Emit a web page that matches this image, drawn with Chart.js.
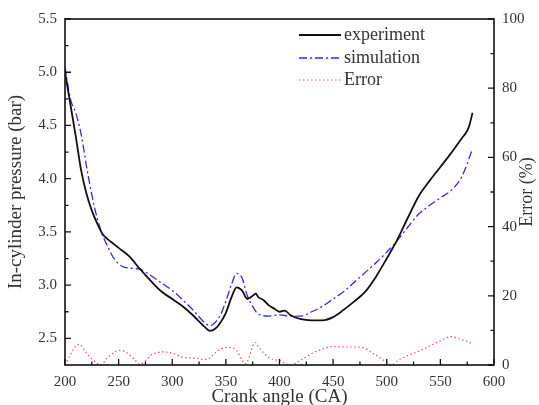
<!DOCTYPE html>
<html>
<head>
<meta charset="utf-8">
<script src="https://cdn.jsdelivr.net/npm/chart.js@4/dist/chart.umd.min.js"></script>
<style>
  html, body { margin: 0; padding: 0; background: #fff; }
  #wrap { width: 539px; height: 405px; }
</style>
</head>
<body>
<div id="wrap"><canvas id="pressureCanvas" width="539" height="405"></canvas></div>
<script>
// du lieu doc tu hinh
const expAngle = [200, 205, 210, 215, 220, 225, 230, 235, 240, 245, 250, 260, 270, 280, 290, 300, 310, 320, 330, 335, 340, 345, 350, 355, 360, 365, 370, 375, 378, 380, 385, 390, 395, 400, 405, 410, 420, 430, 440, 450, 460, 470, 480, 490, 500, 510, 520, 530, 540, 550, 560, 570, 575, 577, 580];
const expPressure = [5.00, 4.70, 4.40, 4.08, 3.86, 3.70, 3.58, 3.48, 3.43, 3.39, 3.35, 3.27, 3.15, 3.04, 2.94, 2.87, 2.80, 2.71, 2.61, 2.57, 2.59, 2.65, 2.74, 2.88, 2.98, 2.95, 2.87, 2.90, 2.92, 2.89, 2.86, 2.81, 2.78, 2.75, 2.76, 2.72, 2.68, 2.67, 2.67, 2.70, 2.77, 2.85, 2.94, 3.08, 3.25, 3.43, 3.64, 3.84, 3.98, 4.11, 4.24, 4.38, 4.45, 4.50, 4.62];

const simAngle = [200, 205, 210, 215, 220, 225, 230, 235, 240, 245, 250, 255, 260, 270, 280, 290, 300, 310, 320, 330, 335, 340, 345, 350, 355, 360, 365, 370, 375, 380, 390, 400, 410, 420, 430, 440, 450, 460, 470, 480, 490, 500, 510, 520, 530, 540, 550, 560, 570, 580];
const simPressure = [5.05, 4.75, 4.62, 4.42, 4.12, 3.85, 3.63, 3.47, 3.36, 3.26, 3.20, 3.17, 3.16, 3.15, 3.09, 3.02, 2.95, 2.86, 2.76, 2.65, 2.62, 2.65, 2.72, 2.85, 3.00, 3.11, 3.07, 2.90, 2.80, 2.73, 2.71, 2.72, 2.71, 2.71, 2.75, 2.80, 2.87, 2.94, 3.03, 3.12, 3.21, 3.31, 3.42, 3.55, 3.67, 3.75, 3.82, 3.89, 4.02, 4.28];

const errAngle = [200, 205, 210, 213, 220, 225, 230, 233, 240, 245, 250, 255, 260, 265, 270, 275, 280, 285, 290, 300, 310, 320, 330, 335, 340, 345, 350, 355, 360, 365, 368, 372, 375, 378, 380, 385, 390, 395, 400, 405, 410, 415, 420, 425, 430, 440, 450, 460, 470, 478, 485, 490, 495, 500, 505, 510, 520, 530, 540, 550, 560, 570, 575, 580];
const errPercent = [0, 3, 5.5, 6, 3.5, 1.8, 0.5, 0, 2.2, 3.5, 4.2, 4.0, 3, 1.5, 0.2, 1.2, 2.8, 3.5, 3.8, 3.4, 2.2, 2.0, 1.6, 2.0, 3.5, 4.6, 5.0, 5.0, 4.2, 1.5, 0.3, 2.5, 5.5, 6.5, 5.5, 3.5, 2.2, 1.5, 1.3, 0.5, 0, 0.5, 1.5, 2.4, 3.3, 4.6, 5.3, 5.2, 5.2, 5.0, 3.8, 2.8, 1.8, 0.8, 0, 1.2, 2.8, 4.0, 5.5, 7.0, 8.2, 7.3, 6.8, 6.0];

const angleTicks = [200, 250, 300, 350, 400, 450, 500, 550, 600];
const pressureTicks = [2.5, 3.0, 3.5, 4.0, 4.5, 5.0, 5.5];
const errorTicks = [0, 20, 40, 60, 80, 100];

const seriesNames = ["experiment", "simulation", "Error"];

const serif = "'Liberation Serif', 'DejaVu Serif', serif";
const textColor = "#333";

function toPoints(xs, ys) {
  return xs.map((x, i) => ({ x: x, y: ys[i] }));
}

// ve khung, vach chia huong vao trong, chu thich va tieu de truc phai
const framePlugin = {
  id: "frame",
  afterDraw(chart) {
    const ctx = chart.ctx;
    const a = chart.chartArea;
    const sx = chart.scales.x, sy = chart.scales.y, sy2 = chart.scales.y2;
    ctx.save();
    ctx.strokeStyle = "#111";
    ctx.lineWidth = 1.6;
    ctx.strokeRect(a.left, a.top, a.right - a.left, a.bottom - a.top);

    ctx.lineWidth = 1.3;
    ctx.beginPath();
    for (let v = 200; v <= 600; v += 25) {
      const px = sx.getPixelForValue(v);
      const len = v % 50 === 0 ? 6 : 3.5;
      ctx.moveTo(px, a.bottom);
      ctx.lineTo(px, a.bottom - len);
    }
    for (let v = 2.5; v <= 5.5001; v += 0.25) {
      const py = sy.getPixelForValue(v);
      const len = Math.abs(v * 2 - Math.round(v * 2)) < 0.01 ? 6 : 3.5;
      ctx.moveTo(a.left, py);
      ctx.lineTo(a.left + len, py);
    }
    for (let v = 0; v <= 100; v += 10) {
      const py = sy2.getPixelForValue(v);
      const len = v % 20 === 0 ? 6 : 3.5;
      ctx.moveTo(a.right, py);
      ctx.lineTo(a.right - len, py);
    }
    ctx.stroke();

    // chu thich
    const rows = [35, 58, 80];
    chart.data.datasets.forEach((ds, i) => {
      const y = rows[i];
      ctx.strokeStyle = ds.borderColor;
      ctx.lineWidth = ds.borderWidth;
      ctx.setLineDash(ds.borderDash || []);
      ctx.beginPath();
      ctx.moveTo(299, y);
      ctx.lineTo(341, y);
      ctx.stroke();
      ctx.setLineDash([]);
      ctx.fillStyle = textColor;
      ctx.font = "18px " + serif;
      ctx.textBaseline = "middle";
      ctx.textAlign = "left";
      ctx.fillText(ds.label, 344, y);
    });

    // tieu de truc phai
    ctx.translate(527, (a.top + a.bottom) / 2);
    ctx.rotate(-Math.PI / 2);
    ctx.font = "18px " + serif;
    ctx.fillStyle = textColor;
    ctx.textAlign = "center";
    ctx.textBaseline = "middle";
    ctx.fillText("Error (%)", 0, 0);
    ctx.restore();
  }
};

const ctx = document.getElementById("pressureCanvas").getContext("2d");

new Chart(ctx, {
  type: "line",
  data: {
    datasets: [
      {
        label: seriesNames[0],
        data: toPoints(expAngle, expPressure),
        borderColor: "#111111",
        borderWidth: 1.8,
        yAxisID: "y"
      },
      {
        label: seriesNames[1],
        data: toPoints(simAngle, simPressure),
        borderColor: "#2a2aff",
        borderWidth: 1.3,
        borderDash: [8, 3, 2, 3],
        yAxisID: "y"
      },
      {
        label: seriesNames[2],
        data: toPoints(errAngle, errPercent),
        borderColor: "#ff4a4a",
        borderWidth: 1.2,
        borderDash: [1.5, 2.5],
        yAxisID: "y2"
      }
    ]
  },
  options: {
    responsive: false,
    animation: false,
    elements: { point: { radius: 0 }, line: { cubicInterpolationMode: "monotone" } },
    layout: { padding: { top: 19, left: 0, right: 0, bottom: 0 } },
    plugins: {
      legend: { display: false },
      tooltip: { enabled: false }
    },
    scales: {
      x: {
        type: "linear",
        min: 200,
        max: 600,
        afterBuildTicks: (s) => { s.ticks = angleTicks.map(v => ({ value: v })); },
        afterFit: (s) => { s.height = 40; },
        grid: { display: false, drawTicks: false },
        border: { display: false },
        ticks: { padding: 8, color: textColor, font: { family: serif, size: 15 }, maxRotation: 0 },
        title: { display: true, text: "Crank angle (CA)", color: textColor, padding: { top: 0, bottom: -3 }, font: { family: serif, size: 19 } }
      },
      y: {
        type: "linear",
        position: "left",
        min: 2.25,
        max: 5.5,
        afterBuildTicks: (s) => { s.ticks = pressureTicks.map(v => ({ value: v })); },
        afterFit: (s) => { s.width = 65; },
        grid: { display: false, drawTicks: false },
        border: { display: false },
        ticks: { padding: 8, color: textColor, font: { family: serif, size: 15 }, callback: (v) => v.toFixed(1) },
        title: { display: true, text: "In-cylinder pressure (bar)", color: textColor, padding: { top: 5, bottom: 0 }, font: { family: serif, size: 19 } }
      },
      y2: {
        type: "linear",
        position: "right",
        min: 0,
        max: 100,
        afterBuildTicks: (s) => { s.ticks = errorTicks.map(v => ({ value: v })); },
        afterFit: (s) => { s.width = 45; },
        grid: { display: false, drawTicks: false },
        border: { display: false },
        ticks: { padding: 8, color: textColor, font: { family: serif, size: 15 } }
      }
    }
  },
  plugins: [framePlugin]
});
</script>
</body>
</html>
